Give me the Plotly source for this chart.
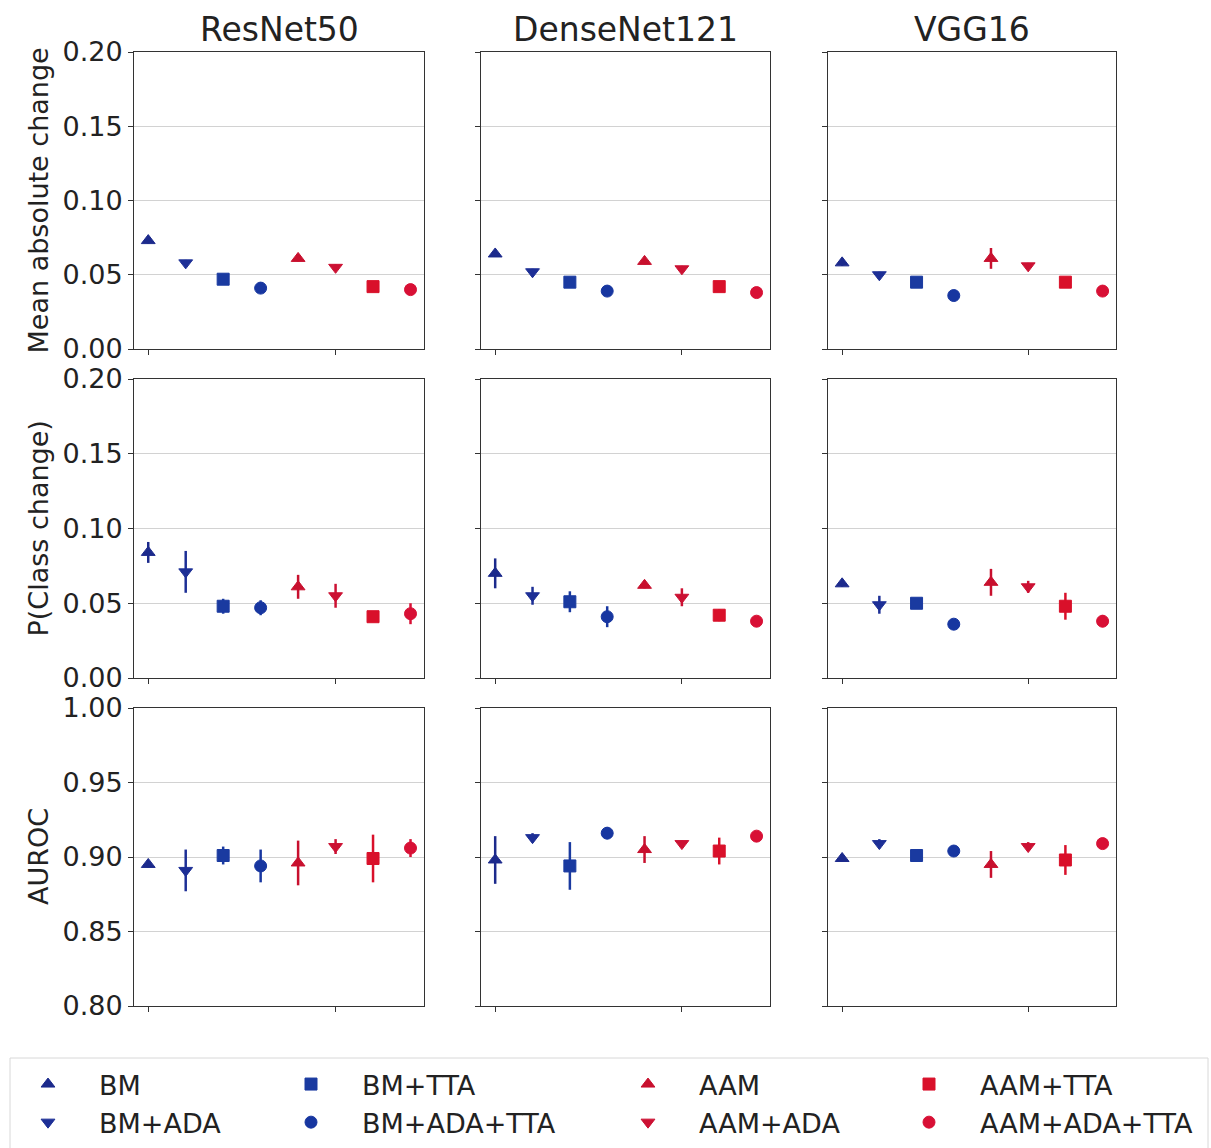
import plotly.graph_objects as go
from plotly.subplots import make_subplots

# ---- data ----
methods = ["BM", "BM+ADA", "BM+TTA", "BM+ADA+TTA", "AAM", "AAM+ADA", "AAM+TTA", "AAM+ADA+TTA"]
models = ["ResNet50", "DenseNet121", "VGG16"]
metrics = ["Mean absolute change", "P(Class change)", "AUROC"]
x_pos = [0, 1, 2, 3, 4, 5, 6, 7]

mac_resnet = [0.073, 0.058, 0.047, 0.041, 0.061, 0.055, 0.042, 0.040]
mac_resnet_err = [0.002, 0.002, 0.002, 0.002, 0.002, 0.002, 0.002, 0.002]
mac_densenet = [0.064, 0.052, 0.045, 0.039, 0.059, 0.054, 0.042, 0.038]
mac_densenet_err = [0.002, 0.002, 0.002, 0.002, 0.002, 0.002, 0.002, 0.002]
mac_vgg = [0.058, 0.050, 0.045, 0.036, 0.061, 0.056, 0.045, 0.039]
mac_vgg_err = [0.002, 0.002, 0.002, 0.002, 0.007, 0.002, 0.003, 0.002]

pcc_resnet = [0.084, 0.071, 0.048, 0.047, 0.061, 0.055, 0.041, 0.043]
pcc_resnet_err = [0.007, 0.014, 0.005, 0.005, 0.008, 0.008, 0.003, 0.007]
pcc_densenet = [0.070, 0.055, 0.051, 0.041, 0.062, 0.054, 0.042, 0.038]
pcc_densenet_err = [0.010, 0.006, 0.007, 0.007, 0.002, 0.006, 0.004, 0.002]
pcc_vgg = [0.063, 0.049, 0.050, 0.036, 0.064, 0.061, 0.048, 0.038]
pcc_vgg_err = [0.002, 0.006, 0.002, 0.002, 0.009, 0.004, 0.009, 0.004]

auroc_resnet = [0.895, 0.891, 0.901, 0.894, 0.896, 0.907, 0.899, 0.906]
auroc_resnet_err = [0.002, 0.014, 0.006, 0.011, 0.015, 0.005, 0.016, 0.006]
auroc_densenet = [0.898, 0.913, 0.894, 0.916, 0.905, 0.909, 0.904, 0.914]
auroc_densenet_err = [0.016, 0.003, 0.016, 0.004, 0.009, 0.002, 0.009, 0.002]
auroc_vgg = [0.899, 0.909, 0.901, 0.904, 0.895, 0.907, 0.898, 0.909]
auroc_vgg_err = [0.002, 0.003, 0.002, 0.002, 0.009, 0.003, 0.010, 0.003]

y_ranges = [[0.0, 0.2], [0.0, 0.2], [0.8, 1.0]]
y_tickvals = [[0.0, 0.05, 0.10, 0.15, 0.20], [0.0, 0.05, 0.10, 0.15, 0.20], [0.80, 0.85, 0.90, 0.95, 1.00]]
y_ticktext = [["0.00", "0.05", "0.10", "0.15", "0.20"], ["0.00", "0.05", "0.10", "0.15", "0.20"],
              ["0.80", "0.85", "0.90", "0.95", "1.00"]]

# ---- styles ----
colors = ["#1c2a8c", "#1d2f96", "#1a3aa0", "#1736a0", "#c8102e", "#cc1133", "#d9102a", "#d81035"]
symbols = ["triangle-up", "triangle-down", "square", "circle",
           "triangle-up", "triangle-down", "square", "circle"]
legend_ids = ["legend", "legend", "legend2", "legend2", "legend3", "legend3", "legend4", "legend4"]

W, H = 1211, 1148
col_px = [(134, 424), (481, 770), (828, 1116)]
row_px = [(52, 349), (379, 678), (708, 1006)]

panels = [
    [(mac_resnet, mac_resnet_err), (mac_densenet, mac_densenet_err), (mac_vgg, mac_vgg_err)],
    [(pcc_resnet, pcc_resnet_err), (pcc_densenet, pcc_densenet_err), (pcc_vgg, pcc_vgg_err)],
    [(auroc_resnet, auroc_resnet_err), (auroc_densenet, auroc_densenet_err), (auroc_vgg, auroc_vgg_err)],
]

fig = make_subplots(rows=3, cols=3)
FONT = "DejaVu Sans"

for r in range(3):
    for c in range(3):
        vals, errs = panels[r][c]
        for i in range(8):
            fig.add_trace(go.Scatter(
                x=[x_pos[i]], y=[vals[i]],
                mode="markers",
                name=methods[i],
                legend=legend_ids[i],
                showlegend=(r == 0 and c == 0),
                marker=dict(symbol=symbols[i], size=12, color=colors[i],
                            line=dict(color=colors[i], width=1)),
                error_y=dict(type="data", array=[errs[i]], color=colors[i],
                             thickness=2.5, width=0, visible=True),
            ), row=r + 1, col=c + 1)

for r in range(3):
    for c in range(3):
        idx = r * 3 + c + 1
        xa = "xaxis" if idx == 1 else f"xaxis{idx}"
        ya = "yaxis" if idx == 1 else f"yaxis{idx}"
        x0, x1 = col_px[c]
        y0, y1 = row_px[r]
        fig.layout[xa].update(
            domain=[x0 / W, x1 / W], range=[-0.38, 7.36],
            showline=True, mirror=True, linecolor="#333333", linewidth=1,
            showgrid=False, zeroline=False,
            tickmode="array", tickvals=[0, 5], ticktext=["", ""],
            ticks="outside", ticklen=5, tickcolor="#333333", showticklabels=False,
        )
        fig.layout[ya].update(
            domain=[1 - y1 / H, 1 - y0 / H], range=y_ranges[r],
            showline=True, mirror=True, linecolor="#333333", linewidth=1,
            showgrid=True, gridcolor="#d2d2d2", gridwidth=1, zeroline=False,
            tickmode="array", tickvals=y_tickvals[r], ticktext=y_ticktext[r],
            ticks="outside", ticklen=5, tickcolor="#333333",
            showticklabels=(c == 0),
            tickfont=dict(family=FONT, size=27, color="#222222"),
        )

annotations = []
for c, m in enumerate(models):
    x0, x1 = col_px[c]
    annotations.append(dict(
        text=m, x=(x0 + x1) / 2 / W, y=1 - 51 / H, xref="paper", yref="paper",
        xanchor="center", yanchor="bottom", showarrow=False,
        font=dict(family=FONT, size=33, color="#222222"),
    ))
for r, met in enumerate(metrics):
    y0, y1 = row_px[r]
    annotations.append(dict(
        text=met, x=38 / W, y=1 - (y0 + y1) / 2 / H, xref="paper", yref="paper",
        xanchor="center", yanchor="middle", showarrow=False, textangle=-90,
        font=dict(family=FONT, size=27, color="#222222"),
    ))

legend_common = dict(
    orientation="v", yanchor="top", xanchor="left",
    font=dict(family=FONT, size=27, color="#222222"),
    bgcolor="rgba(0,0,0,0)", borderwidth=0, itemwidth=92,
    tracegroupgap=0,
)
leg_x = [-3, 260, 597, 878]
leg_y = 1 - 1060 / H
fig.update_layout(
    width=W, height=H,
    margin=dict(l=0, r=0, t=0, b=0, autoexpand=False),
    paper_bgcolor="white", plot_bgcolor="white",
    annotations=annotations,
    legend=dict(x=leg_x[0] / W, y=leg_y, **legend_common),
    legend2=dict(x=leg_x[1] / W, y=leg_y, **legend_common),
    legend3=dict(x=leg_x[2] / W, y=leg_y, **legend_common),
    legend4=dict(x=leg_x[3] / W, y=leg_y, **legend_common),
    shapes=[dict(type="rect", xref="paper", yref="paper",
                 x0=10 / W, x1=1208 / W, y0=-0.02, y1=1 - 1058 / H,
                 line=dict(color="#d8d8d8", width=1), fillcolor="rgba(0,0,0,0)")],
)

fig.write_html("out.html")
